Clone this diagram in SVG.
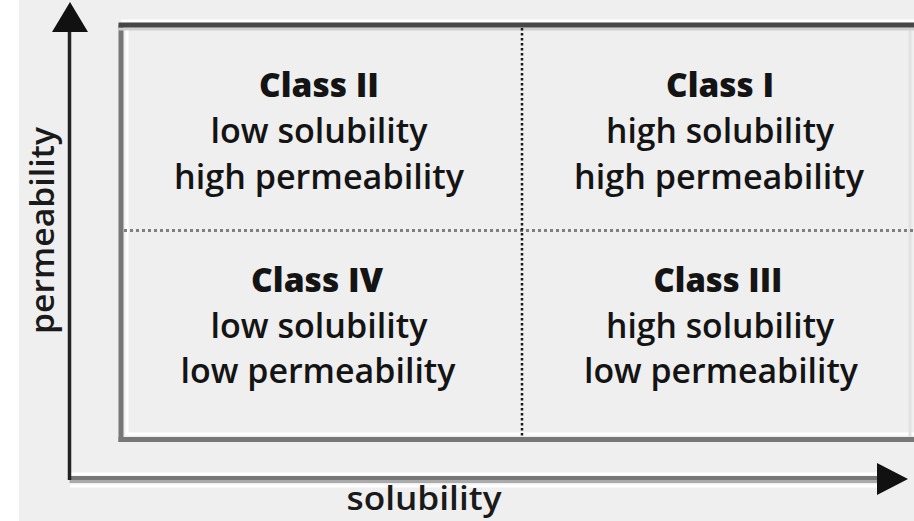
<svg xmlns="http://www.w3.org/2000/svg" width="914" height="521" viewBox="0 0 914 521">
  <style>
    .lbl { font-family: "Open Sans", "Liberation Sans", sans-serif; font-size: 34px; font-weight: 600; fill: #141414; text-anchor: middle; }
    .cls { font-weight: 800; }
    .axis { font-family: "Open Sans", "Liberation Sans", sans-serif; font-size: 33px; font-weight: 600; fill: #1a1a1a; text-anchor: middle; }
  </style>

  <!-- page -->
  <rect x="0" y="0" width="914" height="521" fill="#ffffff"/>
  <rect x="19" y="0" width="895" height="521" fill="#efefef"/>

  <!-- quadrant frame -->
  <g id="frame">
    <line x1="121" y1="21" x2="914" y2="21" stroke="#ffffff" stroke-width="3"/>
    <line x1="127" y1="30" x2="127" y2="435" stroke="#ffffff" stroke-width="3"/>
    <line x1="127" y1="434" x2="914" y2="434" stroke="#ffffff" stroke-width="3"/>
    <line x1="910" y1="28" x2="910" y2="437" stroke="#e2e2e2" stroke-width="3"/>
    <line x1="121" y1="25" x2="121" y2="442" stroke="#777777" stroke-width="5"/>
    <line x1="118.5" y1="439.5" x2="914" y2="439.5" stroke="#777777" stroke-width="5"/>
    <line x1="118.5" y1="29" x2="914" y2="29" stroke="#cfcfcf" stroke-width="3"/>
    <line x1="118.5" y1="25" x2="914" y2="25" stroke="#474747" stroke-width="5"/>
  </g>

  <!-- connectors: quadrant dividers and axes -->
  <g id="connectors">
    <line x1="124" y1="230.5" x2="914" y2="230.5" stroke="#7f7f7f" stroke-width="3" stroke-dasharray="3 3"/>
    <line x1="522" y1="28" x2="522" y2="437" stroke="#1a1a1a" stroke-width="2.5" stroke-dasharray="2.5 2.5"/>
    <line x1="70" y1="474" x2="880" y2="474" stroke="#ffffff" stroke-width="3"/>
    <line x1="70" y1="486" x2="880" y2="486" stroke="#ffffff" stroke-width="3"/>
    <line x1="69.5" y1="478" x2="880" y2="478" stroke="#777777" stroke-width="4"/>
    <line x1="69.5" y1="481.5" x2="880" y2="481.5" stroke="#aaaaaa" stroke-width="3"/>
    <line x1="69.5" y1="480" x2="69.5" y2="30" stroke="#222222" stroke-width="3.5"/>
    <polygon points="70,2 52,32 88,32" fill="#111111"/>
    <polygon points="908,479 877,463 877,495" fill="#111111"/>
  </g>

  <g id="class2">
    <text class="lbl cls" x="319" y="97" textLength="120" lengthAdjust="spacingAndGlyphs">Class II</text>
    <text class="lbl" x="319" y="143" textLength="217" lengthAdjust="spacingAndGlyphs">low solubility</text>
    <text class="lbl" x="319" y="189" textLength="290" lengthAdjust="spacingAndGlyphs">high permeability</text>
  </g>
  <g id="class1">
    <text class="lbl cls" x="720" y="97" textLength="108" lengthAdjust="spacingAndGlyphs">Class I</text>
    <text class="lbl" x="720" y="143" textLength="228" lengthAdjust="spacingAndGlyphs">high solubility</text>
    <text class="lbl" x="719" y="189" textLength="290" lengthAdjust="spacingAndGlyphs">high permeability</text>
  </g>
  <g id="class4">
    <text class="lbl cls" x="317" y="292" textLength="132" lengthAdjust="spacingAndGlyphs">Class IV</text>
    <text class="lbl" x="319" y="338" textLength="217" lengthAdjust="spacingAndGlyphs">low solubility</text>
    <text class="lbl" x="318" y="383" textLength="275" lengthAdjust="spacingAndGlyphs">low permeability</text>
  </g>
  <g id="class3">
    <text class="lbl cls" x="718" y="292" textLength="129" lengthAdjust="spacingAndGlyphs">Class III</text>
    <text class="lbl" x="720" y="338" textLength="228" lengthAdjust="spacingAndGlyphs">high solubility</text>
    <text class="lbl" x="721" y="383" textLength="274" lengthAdjust="spacingAndGlyphs">low permeability</text>
  </g>

  <g id="axis-labels">
    <text class="axis" x="424" y="510" textLength="155" lengthAdjust="spacingAndGlyphs">solubility</text>
    <text class="axis" transform="translate(54,230.5) rotate(-90)" x="0" y="0" textLength="207" lengthAdjust="spacingAndGlyphs">permeability</text>
  </g>
</svg>
